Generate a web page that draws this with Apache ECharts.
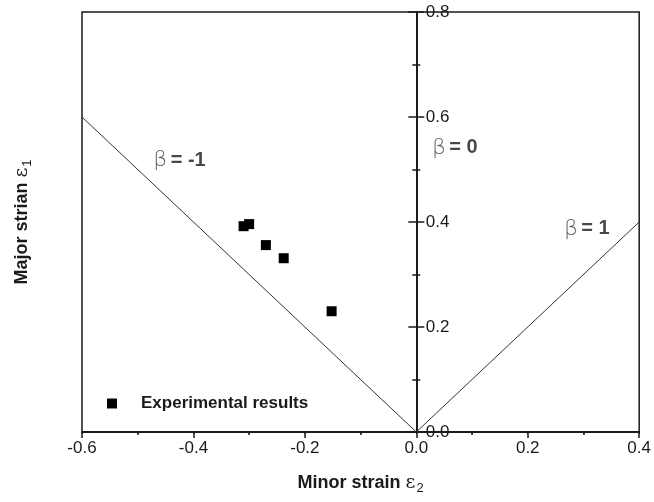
<!DOCTYPE html>
<html>
<head>
    <meta charset="utf-8">
    <script src="https://cdn.jsdelivr.net/npm/echarts@6/dist/echarts.min.js"></script>
</head>
<body style="margin:0">
<div id="main" style="width: 654px;height:502px;"></div>
<script type="text/javascript">
    // measured points: minor strain (x), major strain (y)
    const minorStrain = [-0.310, -0.300, -0.270, -0.238, -0.152];
    const majorStrain = [0.392, 0.396, 0.356, 0.331, 0.230];

    // beta = -1 and beta = 1 strain paths through the origin
    const pathX = [-0.6, 0, 0.4];
    const pathY = [0.6, 0, 0.4];

    const xTicks = [-0.6, -0.4, -0.2, 0.0, 0.2, 0.4];
    const yTicks = [0.0, 0.2, 0.4, 0.6, 0.8];

    // annotation anchors (left edge of the text)
    const betaText = ['= -1', '= 0', '= 1'];
    const betaX = [-0.472, 0.028, 0.265];
    const betaY = [0.518, 0.541, 0.387];

    const ink = '#1a1a1a';
    const font = 'Liberation Sans, Arial, sans-serif';

    const gridLeft = 82, gridRight = 14;
    const plotW = 654 - gridLeft - gridRight;
    // y tick labels sit next to the x = 0 axis line
    const zeroShift = plotW * (0 - xTicks[0]) / (xTicks[xTicks.length - 1] - xTicks[0]);

    const myChart = echarts.init(document.getElementById('main'));

    const nameRich = {
        b: {fontFamily: font, fontSize: 18, fontWeight: 'bold', color: ink},
        e: {fontFamily: 'DejaVu Serif, serif', fontSize: 19, color: ink},
        s: {fontFamily: font, fontSize: 13, color: ink, padding: [10, 0, 0, 1]}
    };

    const option = {
        animation: false,
        grid: {
            left: gridLeft, right: gridRight, top: 12, bottom: 70,
            show: true, borderColor: ink, borderWidth: 1.5, backgroundColor: 'transparent'
        },
        legend: {
            data: ['Experimental results'],
            left: 102, top: 390,
            icon: 'rect', itemWidth: 10, itemHeight: 10,
            textStyle: {
                fontFamily: font, fontSize: 17, fontWeight: 'bold', color: ink,
                padding: [0, 0, 0, 19]
            }
        },
        xAxis: [{
            type: 'value',
            min: xTicks[0], max: xTicks[xTicks.length - 1], interval: 0.2,
            name: '{b|Minor strain }{e|ε}{s|2}',
            nameLocation: 'middle', nameGap: 40,
            nameTextStyle: {rich: nameRich},
            axisLine: {onZero: false, lineStyle: {color: ink, width: 2}},
            axisTick: {length: 6, lineStyle: {color: ink, width: 1.5}},
            minorTick: {show: true, splitNumber: 2, length: 3, lineStyle: {color: ink, width: 1.5}},
            splitLine: {show: false},
            axisLabel: {
                fontFamily: font, fontSize: 17, color: ink, margin: 8,
                formatter: v => v.toFixed(1)
            }
        }, {
            type: 'value', position: 'top',
            min: xTicks[0], max: xTicks[xTicks.length - 1], interval: 0.1,
            axisLine: {show: false},
            axisTick: {inside: true, length: 2, lineStyle: {color: ink}},
            axisLabel: {show: false},
            splitLine: {show: false}
        }],
        yAxis: [{
            type: 'value',
            min: yTicks[0], max: yTicks[yTicks.length - 1], interval: 0.2,
            axisLine: {onZero: true, lineStyle: {color: ink, width: 2}},
            axisTick: {length: 8, lineStyle: {color: ink, width: 1.5}},
            minorTick: {show: true, splitNumber: 2, length: 4, lineStyle: {color: ink, width: 1.5}},
            splitLine: {show: false},
            axisLabel: {show: false}
        }, {
            type: 'value', position: 'left',
            min: yTicks[0], max: yTicks[yTicks.length - 1], interval: 0.2,
            axisLine: {onZero: true, show: false},
            axisTick: {inside: true, length: 8, lineStyle: {color: ink, width: 1.5}},
            minorTick: {show: true, splitNumber: 2, length: 4, lineStyle: {color: ink, width: 1.5}},
            axisLabel: {show: false},
            splitLine: {show: false}
        }, {
            type: 'value', position: 'left',
            min: yTicks[0], max: yTicks[yTicks.length - 1], interval: 0.2,
            offset: -zeroShift,
            axisLine: {onZero: false, show: false},
            axisTick: {show: false},
            splitLine: {show: false},
            axisLabel: {
                inside: true, margin: 9,
                fontFamily: font, fontSize: 17, color: ink,
                formatter: v => v.toFixed(1)
            }
        }, {
            type: 'value', position: 'left',
            min: yTicks[0], max: yTicks[yTicks.length - 1],
            axisLine: {onZero: false, show: false},
            axisTick: {show: false},
            axisLabel: {show: false},
            splitLine: {show: false},
            name: '{b|Major strian }{e|ε}{s|1}',
            nameLocation: 'middle', nameGap: 48,
            nameTextStyle: {rich: nameRich}
        }],
        series: [{
            name: 'paths',
            type: 'line',
            data: pathX.map((x, i) => [x, pathY[i]]),
            symbol: 'none',
            lineStyle: {color: '#333', width: 1},
            z: 1
        }, {
            name: 'Experimental results',
            type: 'scatter',
            data: minorStrain.map((x, i) => [x, majorStrain[i]]),
            symbol: 'rect', symbolSize: 10,
            itemStyle: {color: '#000', opacity: 1},
            z: 3
        }, {
            name: 'beta',
            type: 'scatter',
            symbolSize: 0,
            silent: true,
            data: betaText.map((t, i) => ({value: [betaX[i], betaY[i]], t: t})),
            label: {
                show: true, position: 'right', distance: 0,
                formatter: p => '{g|β} {b|' + p.data.t + '}',
                rich: {
                    g: {fontFamily: 'DejaVu Sans, sans-serif', fontSize: 22, color: '#333', fontWeight: 'lighter'},
                    b: {fontFamily: font, fontSize: 20, fontWeight: 'bold', color: ink}
                }
            }
        }]
    };

    myChart.setOption(option);
</script>
</body>
</html>
